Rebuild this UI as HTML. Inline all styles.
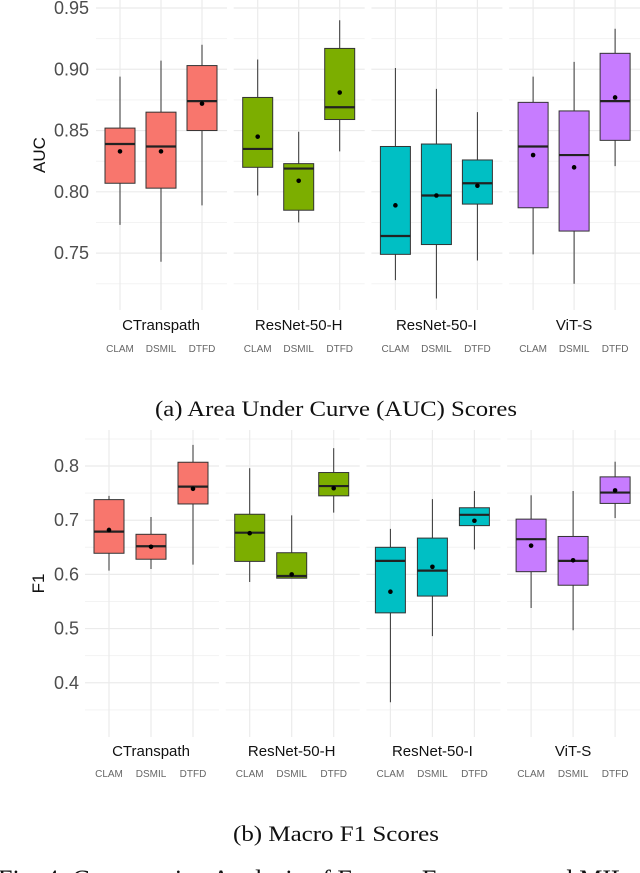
<!DOCTYPE html>
<html><head><meta charset="utf-8">
<style>
html,body{margin:0;padding:0;background:#fff;}
svg{display:block;}
text{font-family:"Liberation Sans",sans-serif;}
</style></head>
<body>
<svg id="fig" width="640" height="873" viewBox="0 0 640 873" xmlns="http://www.w3.org/2000/svg">
<text x="336" y="416" text-anchor="middle" style="font-family:'Liberation Serif',serif" font-size="22" textLength="362" lengthAdjust="spacingAndGlyphs" fill="#111">(a) Area Under Curve (AUC) Scores</text>
<text x="336" y="841" text-anchor="middle" style="font-family:'Liberation Serif',serif" font-size="22" textLength="206" lengthAdjust="spacingAndGlyphs" fill="#111">(b) Macro F1 Scores</text>
<text x="-2" y="888" style="font-family:'Liberation Serif',serif" font-size="26" fill="#111">Fig. 4: Comparative Analysis of Feature Extractors and MIL</text>
</svg>
<script>
const groups = ["CTranspath","ResNet-50-H","ResNet-50-I","ViT-S"];
const methods = ["CLAM","DSMIL","DTFD"];
const colors = ["#F8766D","#7CAE00","#00BFC4","#C77CFF"];
// AUC: [low, q1, median, q3, high, mean] per group/method
const aucStats = [
 [[0.773,0.807,0.839,0.852,0.894,0.833],[0.743,0.803,0.837,0.865,0.907,0.833],[0.789,0.850,0.874,0.903,0.920,0.872]],
 [[0.797,0.820,0.835,0.877,0.908,0.845],[0.775,0.785,0.819,0.823,0.849,0.809],[0.833,0.859,0.869,0.917,0.940,0.881]],
 [[0.728,0.749,0.764,0.837,0.901,0.789],[0.713,0.757,0.797,0.839,0.884,0.797],[0.744,0.790,0.807,0.826,0.865,0.805]],
 [[0.749,0.787,0.837,0.873,0.894,0.830],[0.725,0.768,0.830,0.866,0.906,0.820],[0.821,0.842,0.874,0.913,0.933,0.877]]
];
const aucTicks = [0.75,0.80,0.85,0.90,0.95];
const aucTickLabels = ["0.75","0.80","0.85","0.90","0.95"];
const f1Stats = [
 [[0.607,0.639,0.679,0.738,0.745,0.682],[0.610,0.628,0.652,0.674,0.706,0.651],[0.618,0.730,0.762,0.807,0.839,0.758]],
 [[0.586,0.624,0.677,0.711,0.796,0.676],[0.593,0.593,0.597,0.640,0.709,0.600],[0.714,0.745,0.763,0.788,0.833,0.759]],
 [[0.364,0.529,0.625,0.650,0.684,0.568],[0.486,0.560,0.607,0.667,0.739,0.614],[0.646,0.690,0.710,0.723,0.754,0.699]],
 [[0.538,0.605,0.665,0.702,0.746,0.653],[0.497,0.580,0.625,0.670,0.754,0.626],[0.704,0.731,0.751,0.780,0.808,0.755]]
];
const f1Ticks = [0.4,0.5,0.6,0.7,0.8];
const f1TickLabels = ["0.4","0.5","0.6","0.7","0.8"];

const NS="http://www.w3.org/2000/svg";
const svg=document.getElementById('fig');
function mk(tag,attrs,parent){const e=document.createElementNS(NS,tag);for(const k in attrs)e.setAttribute(k,attrs[k]);(parent||svg).appendChild(e);return e;}

function drawChart(cfg){
  const g=mk('g',{});
  
  
  const y=v=>cfg.yTop+(cfg.vTop-v)/(cfg.vTop-cfg.vBot)*(cfg.yBot-cfg.yTop);
  for(let p=0;p<groups.length;p++){
    const x0=cfg.panelX0+p*cfg.panelStep, x1=x0+cfg.panelW;
    const pg=mk('g',{},g);
    
    
    for(let t=0;t<cfg.ticks.length;t++){
      const m=cfg.ticks[t]-cfg.minorStep;
      if(m>cfg.vBot) mk('line',{x1:x0,x2:x1,y1:y(m),y2:y(m),stroke:'#f3f3f3','stroke-width':1},pg);
    }
    const mTop=cfg.ticks[cfg.ticks.length-1]+cfg.minorStep;
    if(mTop<cfg.vTop) mk('line',{x1:x0,x2:x1,y1:y(mTop),y2:y(mTop),stroke:'#f3f3f3','stroke-width':1},pg);
    for(const t of cfg.ticks) mk('line',{x1:x0,x2:x1,y1:y(t),y2:y(t),stroke:'#ebebeb','stroke-width':1.2},pg);
    const cx=m=>x0+cfg.off+m*cfg.mStep;
    for(let m=0;m<3;m++) mk('line',{x1:cx(m),x2:cx(m),y1:cfg.yTop,y2:cfg.yBot,stroke:'#ebebeb','stroke-width':1.2},pg);
    for(let m=0;m<3;m++){
      const s=cfg.stats[p][m], c=cx(m), hw=15;
      const bg=mk('g',{},pg);
      
      
      mk('line',{x1:c,x2:c,y1:y(s[0]),y2:y(s[4]),stroke:'#333','stroke-width':1},bg);
      mk('rect',{x:c-hw,y:y(s[3]),width:hw*2,height:y(s[1])-y(s[3]),fill:colors[p],stroke:'#333','stroke-width':1},bg);
      mk('line',{x1:c-hw,x2:c+hw,y1:y(s[2]),y2:y(s[2]),stroke:'#222','stroke-width':2.2},bg);
      mk('circle',{cx:c,cy:y(s[5]),r:2.3,fill:'#000'},bg);
      const ml=mk('text',{x:c,y:cfg.methY,'text-anchor':'middle','font-size':10,fill:'#666'},pg);
      ml.textContent=methods[m];
      
      
    }
    const gl=mk('text',{x:cx(1),y:cfg.grpY,'text-anchor':'middle','font-size':15,fill:'#111'},pg);
    gl.textContent=groups[p];
    
    
  }
  for(let i=0;i<cfg.ticks.length;i++){
    const t=mk('text',{x:cfg.tickX,y:y(cfg.ticks[i])+6,'text-anchor':'end','font-size':18,fill:'#4d4d4d'},g);
    t.textContent=cfg.tickLabels[i];
    
    
  }
  const yl=mk('text',{x:0,y:0,'text-anchor':'middle','font-size':17,fill:'#111',transform:`translate(${cfg.ylX},${(cfg.yTop+cfg.yBot)/2}) rotate(-90)`},g);
  yl.textContent=cfg.yTitle;
  
  
}
drawChart({name:'auc-chart',stats:aucStats,ticks:aucTicks,tickLabels:aucTickLabels,yTitle:'AUC',
  yTop:0,yBot:310,vTop:0.9565,vBot:0.7036,minorStep:0.025,panelX0:96,panelStep:137.7,panelW:131,off:24,mStep:41,
  methY:352,grpY:330,tickX:89,ylX:45});
drawChart({name:'f1-chart',stats:f1Stats,ticks:f1Ticks,tickLabels:f1TickLabels,yTitle:'F1',
  yTop:430,yBot:737,vTop:0.8665,vBot:0.2999,minorStep:0.05,panelX0:85,panelStep:140.7,panelW:134,off:24,mStep:42,
  methY:777,grpY:756,tickX:79,ylX:44});
</script>
</body></html>
